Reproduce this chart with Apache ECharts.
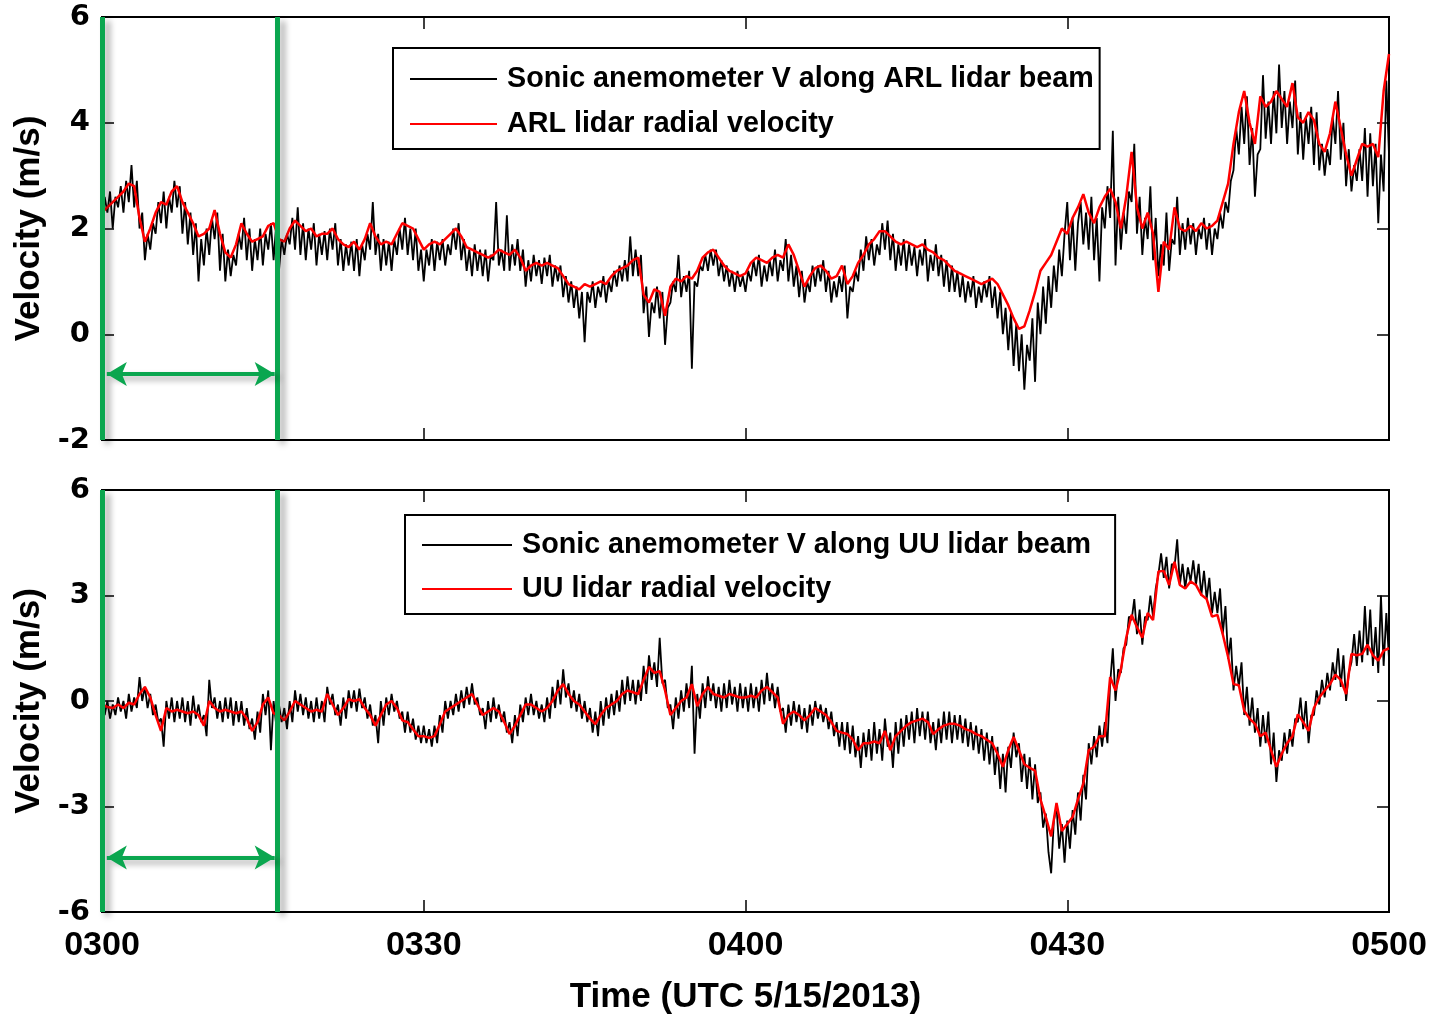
<!DOCTYPE html>
<html><head><meta charset="utf-8">
<script src="https://cdn.jsdelivr.net/npm/echarts@6/dist/echarts.min.js"></script>
<style>html,body{margin:0;padding:0;background:#fff}#c{width:1432px;height:1016px}</style>
</head><body><div id="c"></div>
<script>
// ---- data (minutes after 0300 UTC) ----
const xTickLabels = ['0300','0330','0400','0430','0500'];
const sonicStepMinutes = 0.25;   // sonic anemometer samples
const lidarStepMinutes = 0.5;    // lidar samples
const topNames = ['Sonic anemometer V along ARL lidar beam', 'ARL lidar radial velocity'];
const bottomNames = ['Sonic anemometer V along UU lidar beam', 'UU lidar radial velocity'];
const greenLineTimes = [0, 16.3];
const arrowSpan = [0.45, 16.1];
const topArrowY = [-0.75];
const bottomArrowY = [-4.45];

const topSonic = [
 2.1, 2.6, 2.3, 2.7, 2.0, 2.6, 2.4, 2.8, 2.3, 2.9, 2.5, 3.2, 2.4, 2.9, 2.0, 2.3, 1.4, 1.9, 1.6, 2.1,
 1.9, 2.5, 2.1, 2.7, 2.0, 2.6, 2.3, 2.9, 2.4, 2.8, 1.9, 2.5, 1.7, 2.3, 1.5, 2.1, 1.0, 1.8, 1.3, 2.0,
 1.5, 2.2, 1.8, 2.3, 1.2, 1.9, 1.0, 1.6, 1.1, 1.5, 1.3, 1.9, 1.6, 2.2, 1.4, 2.0, 1.2, 1.8, 1.4, 2.0,
 1.3, 1.9, 1.6, 2.1, 1.4, 2.1, 1.2, 1.8, 1.5, 1.9, 1.7, 2.2, 1.6, 2.4, 1.5, 2.1, 1.4, 2.0, 1.6, 2.1,
 1.3, 1.9, 1.5, 1.95, 1.4, 2.0, 1.6, 2.1, 1.3, 1.8, 1.2, 1.7, 1.3, 1.75, 1.2, 1.8, 1.1, 1.7, 1.4, 1.9,
 1.6, 2.5, 1.5, 1.9, 1.2, 1.8, 1.3, 1.75, 1.2, 1.8, 1.5, 2.0, 1.6, 2.2, 1.5, 2.0, 1.4, 2.0, 1.2, 1.6,
 1.0, 1.6, 1.3, 1.8, 1.2, 1.75, 1.4, 1.8, 1.3, 1.7, 1.5, 2.0, 1.6, 2.1, 1.4, 1.8, 1.2, 1.6, 1.1, 1.7,
 1.2, 1.6, 1.1, 1.6, 1.0, 1.5, 1.4, 2.5, 1.3, 1.6, 1.2, 2.25, 1.2, 1.7, 1.3, 1.8, 1.2, 1.6, 0.9, 1.4,
 1.0, 1.5, 1.1, 1.4, 0.95, 1.45, 1.1, 1.5, 0.9, 1.3, 1.0, 1.3, 0.7, 1.1, 0.6, 1.0, 0.5, 0.9, 0.3, 0.8,
 -0.15, 0.8, 0.6, 1.0, 0.5, 0.9, 0.7, 1.1, 0.6, 1.0, 0.8, 1.2, 0.9, 1.3, 1.0, 1.4, 1.0, 1.85, 1.1, 1.6,
 1.1, 1.5, 0.4, 0.9, -0.05, 0.6, 0.4, 0.9, 0.3, 0.8, -0.2, 0.5, 0.6, 1.0, 0.8, 1.5, 0.7, 1.1, 0.8, 1.2,
 -0.65, 1.0, 0.9, 1.3, 1.2, 1.5, 1.2, 1.6, 1.3, 1.6, 1.1, 1.4, 1.0, 1.3, 0.9, 1.2, 0.8, 1.2, 0.9, 1.1,
 0.8, 1.2, 1.0, 1.4, 1.1, 1.5, 0.9, 1.3, 1.0, 1.4, 1.1, 1.6, 1.0, 1.4, 1.2, 1.8, 1.0, 1.5, 0.9, 1.3,
 0.7, 1.2, 0.6, 1.0, 0.8, 1.3, 0.9, 1.3, 1.0, 1.4, 0.8, 1.2, 0.6, 1.0, 0.7, 1.1, 0.8, 1.3, 0.3, 0.9,
 0.8, 1.2, 1.0, 1.6, 1.2, 1.85, 1.4, 1.8, 1.3, 1.7, 1.5, 2.1, 1.6, 2.15, 1.4, 1.9, 1.2, 1.7, 1.3, 1.8,
 1.2, 1.7, 1.3, 1.65, 1.1, 1.6, 1.3, 1.8, 1.0, 1.5, 1.2, 1.7, 1.1, 1.5, 0.9, 1.4, 0.8, 1.3, 0.8, 1.2,
 0.7, 1.1, 0.6, 1.0, 0.7, 1.1, 0.5, 0.9, 0.6, 1.0, 0.7, 1.1, 0.5, 0.9, 0.3, 0.8, 0.0, 0.5, -0.3, 0.4,
 -0.6, 0.2, -0.7, 0.0, -1.05, -0.2, -0.5, 0.3, -0.9, 0.6, 0.0, 0.9, 0.2, 1.1, 0.5, 1.3, 0.8, 1.6, 1.1, 1.9,
 2.5, 1.4, 2.2, 1.2, 2.1, 2.5, 1.7, 2.3, 1.6, 2.6, 1.4, 2.2, 1.0, 2.4, 2.0, 2.8, 2.2, 3.85, 1.3, 2.6,
 1.6, 2.3, 1.9, 2.7, 2.5, 3.6, 1.9, 2.6, 1.5, 2.2, 1.8, 2.8, 1.4, 2.2, 1.1, 1.7, 1.3, 2.3, 1.2, 1.8,
 1.7, 2.6, 1.5, 2.1, 1.6, 2.2, 1.7, 2.1, 1.5, 2.0, 1.8, 2.2, 1.6, 2.1, 1.5, 2.0, 1.8, 2.3, 2.0, 2.5,
 2.3, 2.9, 3.1, 3.9, 3.4, 4.3, 3.6, 4.5, 3.2, 3.9, 2.6, 3.4, 3.5, 4.9, 3.7, 4.4, 3.6, 4.6, 3.8, 5.1,
 3.9, 4.6, 3.6, 4.4, 3.9, 4.8, 3.4, 4.2, 3.3, 4.1, 3.6, 4.3, 3.2, 4.2, 3.1, 3.6, 3.0, 3.5, 3.2, 4.1,
 3.6, 4.6, 3.3, 4.0, 2.8, 3.5, 2.7, 3.2, 2.9, 3.5, 2.9, 3.9, 2.6, 3.8, 2.8, 3.6, 2.1, 3.4, 2.7, 4.8,
 3.4
];

const topLidar = [
 2.3, 2.4, 2.5, 2.6, 2.7, 2.85, 2.8, 2.2, 1.75, 2.0,
 2.3, 2.5, 2.45, 2.7, 2.8, 2.5, 2.3, 2.1, 1.85, 1.9,
 2.0, 2.35, 1.9, 1.55, 1.45, 1.7, 2.1, 1.9, 1.75, 1.8,
 1.85, 2.05, 2.1, 1.8, 1.75, 2.0, 2.15, 2.05, 1.95, 2.0,
 1.85, 1.9, 1.9, 2.0, 1.8, 1.7, 1.65, 1.75, 1.6, 1.8,
 2.1, 1.85, 1.7, 1.75, 1.7, 1.9, 2.1, 2.05, 2.0, 1.8,
 1.6, 1.7, 1.75, 1.7, 1.8, 1.9, 2.0, 1.85, 1.65, 1.6,
 1.55, 1.5, 1.45, 1.5, 1.6, 1.55, 1.5, 1.6, 1.45, 1.2,
 1.3, 1.35, 1.3, 1.35, 1.3, 1.25, 1.1, 0.95, 0.9, 0.85,
 0.95, 0.9, 0.95, 1.0, 0.95, 1.1, 1.2, 1.25, 1.3, 1.4,
 1.45, 0.75, 0.6, 0.85, 0.8, 0.35, 0.9, 1.05, 1.0, 1.1,
 1.05, 1.2, 1.45, 1.55, 1.6, 1.45, 1.3, 1.2, 1.15, 1.1,
 1.15, 1.35, 1.45, 1.4, 1.35, 1.45, 1.5, 1.45, 1.7, 1.5,
 1.2, 0.9, 1.1, 1.25, 1.3, 1.2, 1.05, 1.1, 1.3, 0.95,
 1.1, 1.35, 1.5, 1.7, 1.8, 1.95, 1.95, 1.85, 1.75, 1.7,
 1.75, 1.7, 1.65, 1.7, 1.6, 1.55, 1.45, 1.4, 1.3, 1.2,
 1.15, 1.1, 1.05, 1.0, 0.95, 1.0, 1.05, 0.95, 0.75, 0.55,
 0.3, 0.1, 0.15, 0.45, 0.8, 1.2, 1.35, 1.5, 1.75, 2.0,
 1.9, 2.2, 2.4, 2.65, 2.3, 2.1, 2.4, 2.6, 2.75, 2.5,
 2.0, 2.6, 3.45, 2.4, 2.0, 2.3, 1.9, 0.8, 1.75, 1.6,
 2.4, 2.0, 1.95, 2.05, 1.95, 2.1, 2.0, 2.05, 2.15, 2.5,
 2.85, 3.6, 4.2, 4.6, 4.0, 3.6, 4.5, 4.3, 4.4, 4.6,
 4.45, 4.3, 4.75, 4.1, 4.0, 4.2, 4.05, 3.6, 3.45, 3.8,
 4.4, 3.9, 3.4, 3.0, 3.3, 3.6, 3.55, 3.6, 3.35, 4.6,
 5.3
];

const bottomSonic = [
 0.1, -0.4, 0.0, -0.5, -0.1, -0.4, 0.1, -0.3, 0.0, -0.5, 0.2, -0.3, 0.1, -0.2, 0.68, 0.0, 0.4, -0.2, 0.2, -0.4,
 -0.1, -0.6, -0.5, -1.3, 0.0, -0.5, 0.1, -0.6, 0.0, -0.5, 0.1, -0.6, 0.0, -0.7, 0.15, -0.5, -0.1, -0.6, -0.4, -1.0,
 0.6, -0.2, 0.1, -0.5, 0.0, -0.6, 0.1, -0.5, 0.1, -0.7, 0.0, -0.6, 0.0, -0.7, -0.2, -0.8, -0.5, -1.1, -0.3, -0.9,
 0.2, -0.4, 0.3, -1.4, 0.0, -0.7, -0.1, -0.6, -0.2, -0.8, 0.0, -0.6, 0.3, -0.3, 0.2, -0.4, 0.1, -0.5, 0.0, -0.6,
 0.1, -0.5, 0.0, -0.6, 0.4, -0.1, 0.2, -0.4, -0.1, -0.7, 0.1, -0.5, 0.3, -0.2, 0.3, -0.3, 0.35, -0.2, 0.1, -0.5,
 -0.1, -0.7, -0.4, -1.2, 0.0, -0.7, 0.1, -0.4, 0.2, -0.3, 0.0, -0.5, -0.3, -0.9, -0.3, -0.9, -0.5, -1.1, -0.7, -1.2,
 -0.7, -1.2, -0.8, -1.3, -0.7, -1.2, -0.4, -0.9, 0.0, -0.5, 0.0, -0.4, 0.2, -0.3, 0.3, -0.2, 0.4, -0.1, 0.5, -0.1,
 0.1, -0.4, -0.2, -0.8, 0.0, -0.6, 0.1, -0.5, -0.1, -0.6, -0.3, -0.9, -0.6, -1.2, -0.4, -1.0, -0.1, -0.6, 0.1, -0.4,
 0.2, -0.4, 0.0, -0.5, -0.1, -0.6, 0.1, -0.5, 0.4, -0.2, 0.6, -0.1, 0.9, 0.1, 0.5, -0.2, 0.3, -0.3, 0.2, -0.5,
 0.0, -0.6, -0.2, -0.9, -0.3, -1.0, 0.0, -0.7, 0.1, -0.5, 0.2, -0.4, 0.3, -0.3, 0.6, -0.1, 0.7, 0.0, 0.6, -0.1,
 0.6, 0.0, 1.0, 0.2, 1.3, 0.6, 1.1, 0.4, 1.8, 0.5, 0.6, -0.2, -0.1, -0.8, 0.1, -0.5, 0.3, -0.3, 0.5, -0.2,
 1.0, -1.5, 0.2, -0.5, 0.5, -0.2, 0.7, 0.0, 0.5, -0.2, 0.4, -0.3, 0.5, -0.2, 0.6, -0.1, 0.4, -0.3, 0.5, -0.2,
 0.4, -0.3, 0.5, -0.2, 0.4, -0.3, 0.6, -0.1, 0.8, 0.0, 0.5, -0.2, 0.4, -0.3, -0.2, -0.9, -0.1, -0.7, 0.0, -0.6,
 -0.1, -0.8, -0.2, -0.9, -0.1, -0.7, 0.0, -0.5, -0.1, -0.6, -0.2, -0.8, -0.3, -1.0, -0.6, -1.3, -0.6, -1.4, -0.6, -1.5,
 -0.7, -1.6, -1.0, -1.9, -0.9, -1.6, -0.8, -1.7, -0.6, -1.5, -0.8, -1.7, -0.5, -1.3, -0.9, -1.9, -0.6, -1.5, -0.5, -1.3,
 -0.4, -1.1, -0.3, -1.2, -0.2, -1.0, -0.3, -1.1, -0.3, -1.2, -0.6, -1.4, -0.5, -1.2, -0.3, -1.1, -0.3, -1.2, -0.4, -1.1,
 -0.4, -1.2, -0.5, -1.3, -0.6, -1.4, -0.7, -1.5, -0.8, -1.7, -0.9, -1.8, -1.0, -2.1, -1.3, -2.5, -1.5, -2.6, -1.3, -1.9,
 -0.9, -1.6, -1.2, -2.3, -1.5, -2.5, -1.6, -2.8, -1.8, -2.9, -2.6, -3.6, -3.2, -4.3, -4.9, -3.4, -3.0, -4.2, -3.5, -4.6,
 -3.4, -4.2, -3.1, -3.8, -2.6, -3.4, -2.1, -2.8, -1.2, -1.8, -1.0, -1.6, -0.7, -1.3, -0.6, -1.2, 0.5, 1.5, 0.0, 0.9,
 0.8, 1.5, 1.6, 2.4, 2.3, 2.9, 1.9, 2.6, 1.6, 2.4, 2.3, 3.0, 2.4, 3.2, 3.6, 4.2, 3.5, 4.1, 3.2, 3.9,
 3.8, 4.6, 3.3, 3.9, 3.2, 3.8, 3.4, 4.0, 3.3, 3.9, 3.0, 3.7, 2.9, 3.5, 2.5, 3.1, 2.5, 3.2, 1.9, 2.7,
 1.2, 1.8, 0.3, 1.0, 0.4, 1.1, -0.4, 0.4, -0.7, 0.1, -0.9, -0.2, -1.3, -0.4, -1.2, -0.3, -1.8, -0.9, -2.3, -1.4,
 -1.7, -0.9, -1.5, -0.8, -1.3, -0.5, -0.6, 0.1, -0.8, 0.0, -1.2, -0.4, -0.4, 0.3, -0.1, 0.6, 0.1, 0.8, 0.3, 1.1,
 0.6, 1.5, 0.4, 1.3, 0.0, 0.8, 1.1, 1.9, 1.0, 2.0, 1.1, 2.7, 1.3, 2.6, 1.0, 2.1, 0.8, 3.0, 1.0, 2.5,
 1.2
];

const bottomLidar = [
 -0.1, -0.17, -0.2, -0.1, -0.2, -0.05, -0.1, 0.2, 0.4, 0.1,
 -0.4, -0.85, -0.2, -0.3, -0.25, -0.3, -0.35, -0.3, -0.4, -0.7,
 0.0, -0.2, -0.3, -0.25, -0.3, -0.35, -0.3, -0.5, -0.85, -0.6,
 -0.1, 0.1, -0.35, -0.4, -0.55, -0.3, 0.0, -0.1, -0.2, -0.3,
 -0.25, -0.3, 0.2, -0.1, -0.4, -0.2, 0.05, 0.0, 0.05, -0.2,
 -0.4, -0.7, -0.4, -0.1, 0.0, -0.2, -0.55, -0.6, -0.8, -1.0,
 -1.0, -1.05, -1.0, -0.66, -0.3, -0.2, -0.1, 0.0, 0.1, 0.2,
 -0.1, -0.4, -0.3, -0.2, -0.3, -0.6, -0.94, -0.7, -0.4, -0.1,
 -0.1, -0.2, -0.3, -0.2, 0.0, 0.3, 0.48, 0.2, 0.0, -0.1,
 -0.3, -0.5, -0.66, -0.4, -0.2, -0.1, 0.0, 0.2, 0.3, 0.25,
 0.2, 0.6, 0.97, 0.8, 0.85, 0.3, -0.4, -0.2, 0.0, 0.1,
 0.48, -0.15, 0.2, 0.4, 0.2, 0.15, 0.1, 0.2, 0.15, 0.1,
 0.1, 0.15, 0.1, 0.3, 0.4, 0.25, 0.1, -0.65, -0.4, -0.3,
 -0.4, -0.55, -0.4, -0.2, -0.3, -0.4, -0.6, -0.85, -0.9, -0.94,
 -1.1, -1.4, -1.2, -1.2, -1.15, -1.2, -0.85, -1.4, -1.0, -0.85,
 -0.7, -0.6, -0.55, -0.5, -0.6, -0.94, -0.8, -0.7, -0.65, -0.65,
 -0.7, -0.8, -0.85, -0.94, -1.0, -1.1, -1.2, -1.5, -1.87, -1.4,
 -1.02, -1.4, -1.8, -1.9, -1.98, -2.8, -3.3, -3.85, -2.9, -3.7,
 -3.5, -3.3, -2.8, -2.35, -1.4, -1.3, -1.0, -1.0, 0.68, 0.3,
 0.9, 1.8, 2.45, 2.1, 1.8, 2.5, 2.3, 3.68, 3.7, 3.3,
 3.96, 3.3, 3.2, 3.4, 3.3, 3.02, 2.9, 2.4, 2.45, 1.9,
 1.25, 0.48, 0.45, -0.28, -0.5, -0.65, -1.0, -0.9, -1.4, -1.87,
 -1.5, -1.2, -1.0, -0.38, -0.6, -0.85, -0.2, 0.1, 0.3, 0.48,
 0.75, 0.6, 0.2, 1.34, 1.3, 1.34, 1.6, 1.3, 1.15, 1.43,
 1.5
];

// ---- chart ----
function pairs(vals, step) { return vals.map((v, i) => [i * step, v]); }
const FONT = 'Liberation Sans';
const GREEN = '#0aa64f';
const tickStyle = { inside: true, length: 12, lineStyle: { color: '#000', width: 1.5 } };

function xAx(grid, pos, labels) {
  return {
    gridIndex: grid, type: 'value', min: 0, max: 120, interval: 30, position: pos,
    axisLine: { show: false, onZero: false }, splitLine: { show: false }, axisTick: tickStyle,
    axisLabel: labels ? { show: true, margin: 17, color: '#000', fontSize: 34, fontWeight: 'bold', fontFamily: FONT,
      formatter: v => xTickLabels[Math.round(v / 30)] } : { show: false }
  };
}
function yAx(grid, pos, min, max, step, labels) {
  const a = {
    gridIndex: grid, type: 'value', min: min, max: max, interval: step, position: pos,
    axisLine: { show: false, onZero: false }, splitLine: { show: false }, axisTick: tickStyle,
    axisLabel: labels ? { show: true, margin: 12, color: '#000', fontSize: 29, fontWeight: 'bold', fontFamily: 'DejaVu Sans' } : { show: false }
  };
  if (labels) {
    a.name = 'Velocity (m/s)'; a.nameLocation = 'middle'; a.nameGap = 55; a.nameRotate = 90;
    a.nameTextStyle = { color: '#000', fontSize: 35, fontWeight: 'bold', fontFamily: FONT };
  }
  return a;
}
const x2 = xAx(1, 'bottom', true);
x2.name = 'Time (UTC 5/15/2013)'; x2.nameLocation = 'middle'; x2.nameGap = 68;
x2.nameTextStyle = { color: '#000', fontSize: 35, fontWeight: 'bold', fontFamily: FONT };

function markers(arrowY) {
  const shadow = { shadowColor: 'rgba(0,0,0,0.35)', shadowBlur: 6, shadowOffsetX: 5, shadowOffsetY: 4 };
  return {
    silent: true, symbol: ['none', 'none'], label: { show: false }, animation: false,
    lineStyle: Object.assign({ color: GREEN, width: 5, type: 'solid' }, shadow),
    emphasis: { disabled: true },
    data: greenLineTimes.map(t => ({ xAxis: t })).concat([[
      { coord: [arrowSpan[0], arrowY[0]], symbol: 'arrow', symbolSize: [18, 20], lineStyle: Object.assign({ color: GREEN, width: 4 }, shadow) },
      { coord: [arrowSpan[1], arrowY[0]], symbol: 'arrow', symbolSize: [18, 20] }
    ]])
  };
}

function lineSeries(name, vals, step, xi, yi, color, width, z, mark) {
  const s = { name: name, type: 'line', xAxisIndex: xi, yAxisIndex: yi, data: pairs(vals, step), symbol: 'none', showSymbol: false,
    color: color, lineStyle: { color: color, width: width }, z: z, animation: false, silent: true };
  if (mark) s.markLine = mark;
  return s;
}
function legendFor(names, left, top, itemW, gap, pad, fs) {
  return {
    data: names, orient: 'vertical', left: left, top: top, padding: pad,
    icon: 'path://M0,0H90V2H0Z',
    itemWidth: itemW, itemHeight: 14, itemGap: gap, borderColor: '#000', borderWidth: 2, backgroundColor: '#fff',
    selectedMode: false,
    textStyle: { color: '#000', fontSize: fs, fontWeight: 'bold', fontFamily: FONT, lineHeight: 30, padding: [0, 0, 0, 5] }
  };
}

const chart = echarts.init(document.getElementById('c'), null, { renderer: 'canvas' });
chart.setOption({
  animation: false,
  backgroundColor: '#fff',
  textStyle: { fontFamily: FONT },
  grid: [
    { left: 102, right: 43, top: 17, height: 423, show: true, borderColor: '#000', borderWidth: 2, backgroundColor: 'transparent' },
    { left: 102, right: 43, top: 490, height: 424, show: true, borderColor: '#000', borderWidth: 2, backgroundColor: 'transparent' }
  ],
  legend: [
    legendFor(topNames, 393, 48, 87, 15, [16, 6, 10, 17], 28.7),
    legendFor(bottomNames, 405, 515, 90, 14, [15, 24, 10, 17], 28.7)
  ],
  xAxis: [xAx(0, 'bottom', false), xAx(0, 'top', false), x2, xAx(1, 'top', false)],
  yAxis: [yAx(0, 'left', -2, 6, 2, true), yAx(0, 'right', -2, 6, 2, false), yAx(1, 'left', -6, 6, 3, true), yAx(1, 'right', -6, 6, 3, false)],
  series: [
    lineSeries(topNames[0], topSonic, sonicStepMinutes, 0, 0, '#000000', 1.8, 2),
    lineSeries(topNames[1], topLidar, lidarStepMinutes, 0, 0, '#ff0000', 2.5, 3, markers(topArrowY)),
    lineSeries(bottomNames[0], bottomSonic, sonicStepMinutes, 2, 2, '#000000', 1.8, 2),
    lineSeries(bottomNames[1], bottomLidar, lidarStepMinutes, 2, 2, '#ff0000', 2.5, 3, markers(bottomArrowY))
  ]
});
</script>
</body></html>
